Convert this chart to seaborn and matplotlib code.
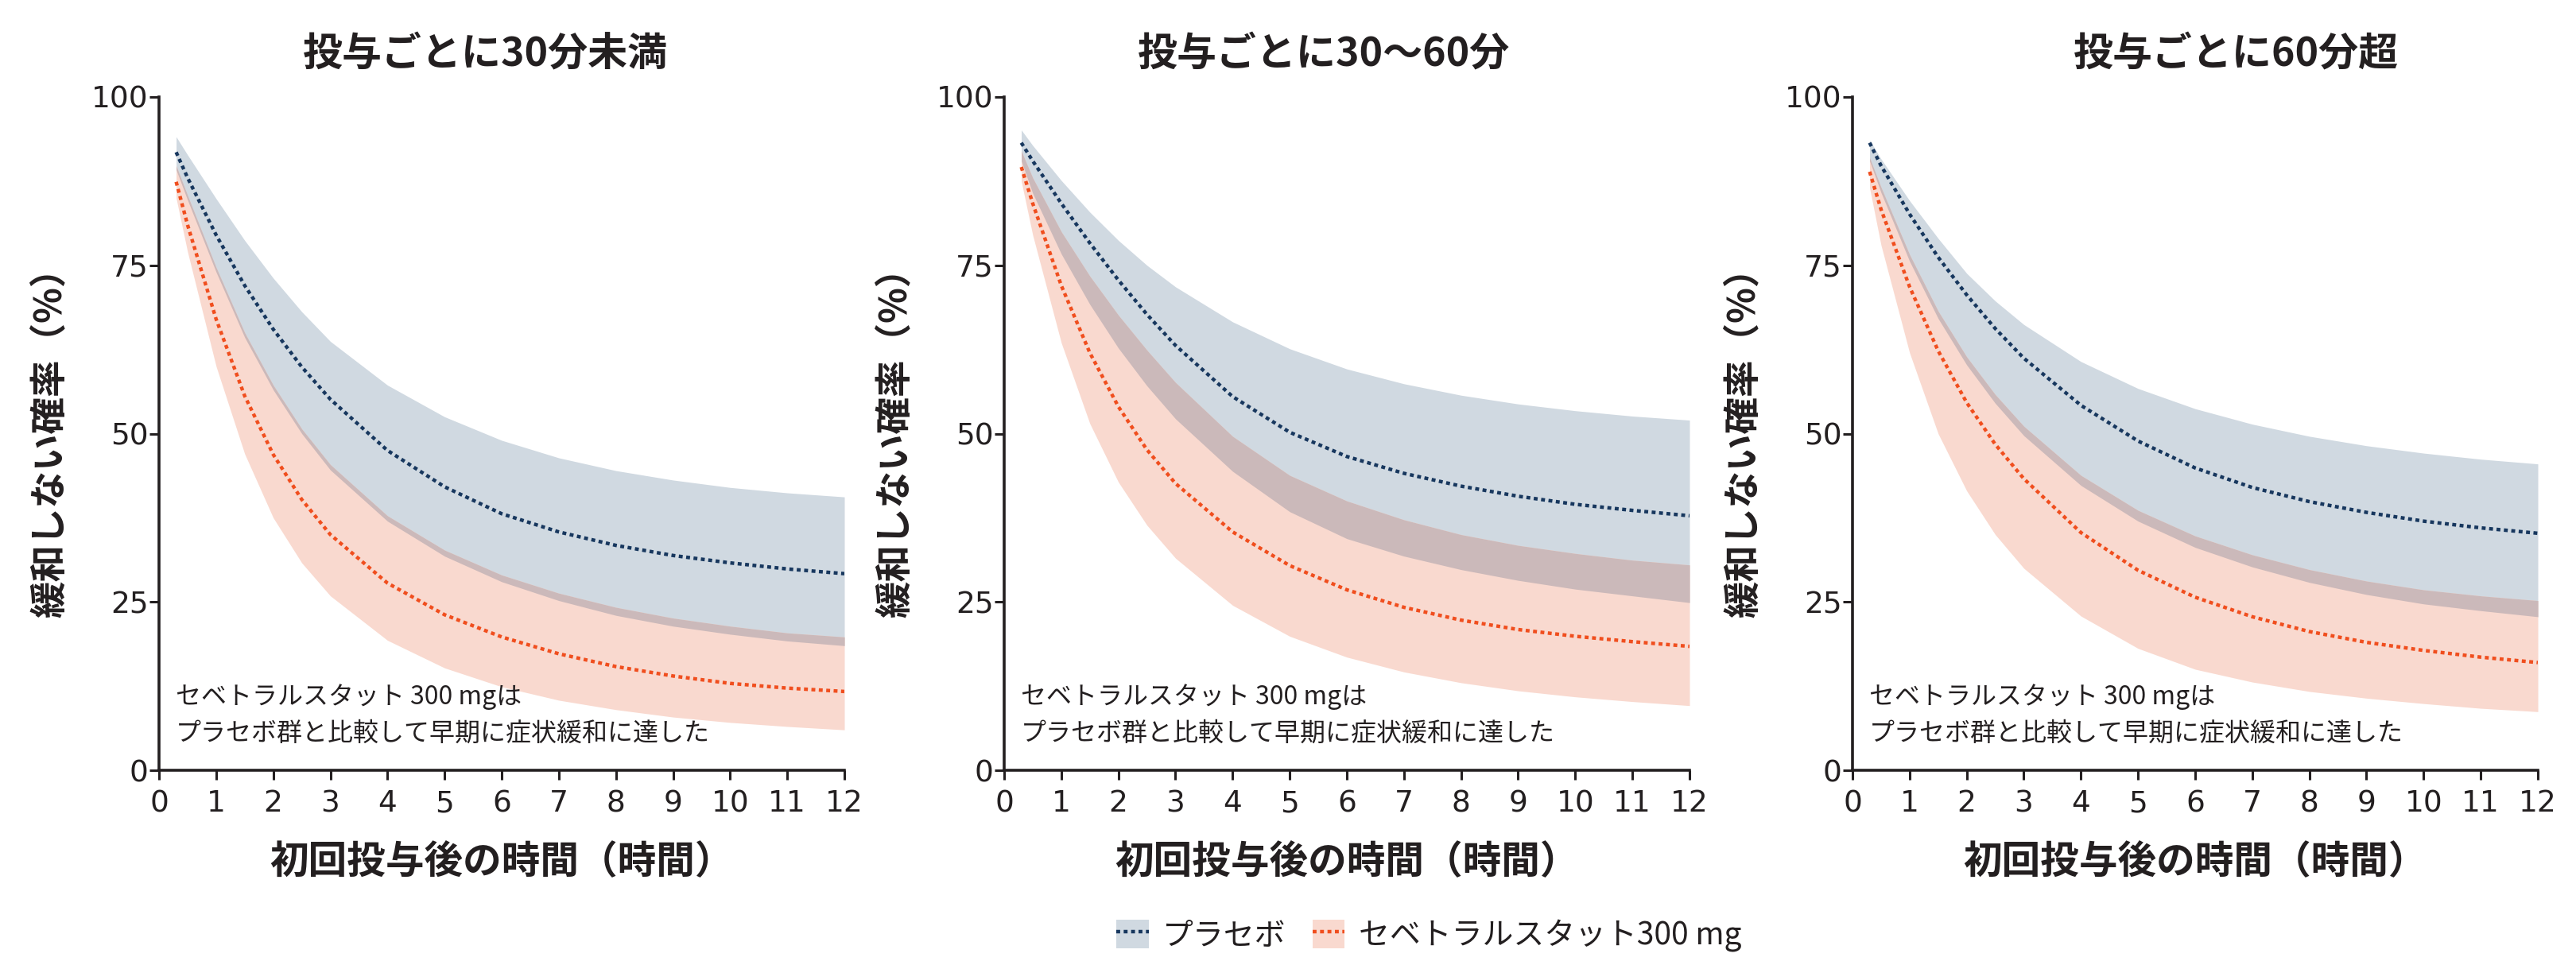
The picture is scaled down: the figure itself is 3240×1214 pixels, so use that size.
import numpy as np
import matplotlib
matplotlib.use("Agg")
import matplotlib.pyplot as plt
from matplotlib.patches import Patch
from matplotlib.lines import Line2D
import seaborn as sns

# Time after first dose (hours)
hours = [0.3, 0.5, 1, 1.5, 2, 2.5, 3, 4, 5, 6, 7, 8, 9, 10, 11, 12]

panel_titles = ["投与ごとに30分未満", "投与ごとに30〜60分", "投与ごとに60分超"]

# Placebo: mean and band (lower / upper), % not relieved
placebo_mean_lt30 = [91.8, 88.0, 79.5, 72.0, 65.5, 59.9, 55.1, 47.5, 42.1, 38.1, 35.4, 33.4, 31.9, 30.8, 29.9, 29.2]
placebo_low_lt30 = [89.2, 84.7, 74.0, 64.3, 56.5, 50.0, 44.6, 37.0, 31.8, 28.0, 25.2, 23.0, 21.4, 20.2, 19.2, 18.5]
placebo_high_lt30 = [94.1, 91.4, 84.9, 78.7, 73.1, 68.1, 63.7, 57.2, 52.5, 49.0, 46.4, 44.5, 43.1, 42.0, 41.2, 40.6]

placebo_mean_30_60 = [93.2, 90.5, 84.2, 78.3, 72.8, 67.7, 63.1, 55.5, 50.2, 46.6, 44.1, 42.2, 40.7, 39.5, 38.6, 37.8]
placebo_low_30_60 = [90.5, 85.7, 76.7, 69.2, 62.7, 57.1, 52.2, 44.4, 38.4, 34.4, 31.8, 29.8, 28.2, 26.9, 25.9, 24.9]
placebo_high_30_60 = [95.1, 92.8, 87.6, 82.9, 78.7, 75.0, 71.8, 66.6, 62.6, 59.6, 57.4, 55.7, 54.4, 53.4, 52.6, 52.0]

placebo_mean_gt60 = [93.2, 89.8, 82.6, 76.2, 70.6, 65.6, 61.2, 54.2, 48.9, 44.9, 42.0, 39.9, 38.3, 37.0, 36.0, 35.2]
placebo_low_gt60 = [90.5, 85.8, 75.6, 67.1, 60.2, 54.5, 49.7, 42.3, 37.0, 33.1, 30.2, 27.9, 26.1, 24.7, 23.7, 22.8]
placebo_high_gt60 = [93.6, 90.8, 84.6, 79.0, 73.8, 69.7, 66.2, 60.7, 56.7, 53.7, 51.4, 49.6, 48.2, 47.1, 46.2, 45.5]

# Sebetralstat 300 mg: mean and band
sebe_mean_lt30 = [87.4, 81.0, 67.0, 55.6, 46.9, 40.2, 35.0, 27.8, 23.1, 19.8, 17.3, 15.4, 14.0, 12.9, 12.2, 11.7]
sebe_low_lt30 = [85.0, 77.0, 60.0, 47.0, 37.5, 30.8, 25.9, 19.3, 15.2, 12.4, 10.4, 9.0, 7.9, 7.1, 6.5, 6.0]
sebe_high_lt30 = [89.8, 85.4, 74.7, 65.0, 57.2, 50.7, 45.4, 37.8, 32.7, 29.0, 26.3, 24.2, 22.6, 21.4, 20.4, 19.8]

sebe_mean_30_60 = [89.6, 84.2, 72.0, 62.0, 54.0, 47.6, 42.6, 35.4, 30.4, 26.8, 24.2, 22.3, 20.9, 19.9, 19.1, 18.4]
sebe_low_30_60 = [87.5, 79.5, 63.5, 51.5, 42.8, 36.4, 31.5, 24.5, 19.9, 16.8, 14.6, 13.0, 11.8, 10.9, 10.2, 9.6]
sebe_high_30_60 = [92.0, 88.0, 80.0, 73.4, 67.6, 62.4, 57.6, 49.6, 43.8, 40.0, 37.2, 35.0, 33.4, 32.2, 31.2, 30.5]

sebe_mean_gt60 = [88.9, 83.3, 71.8, 62.3, 54.6, 48.4, 43.3, 35.3, 29.7, 25.7, 22.8, 20.6, 19.0, 17.8, 16.8, 16.0]
sebe_low_gt60 = [86.5, 78.0, 62.0, 50.0, 41.5, 35.0, 30.0, 22.9, 18.1, 15.0, 13.1, 11.7, 10.7, 9.9, 9.2, 8.7]
sebe_high_gt60 = [91.0, 86.6, 76.6, 68.2, 61.4, 55.8, 51.1, 43.8, 38.6, 34.8, 32.0, 29.8, 28.1, 26.8, 25.9, 25.2]

x_ticks = list(range(0, 13))
y_ticks = [0, 25, 50, 75, 100]

series_name_placebo = "プラセボ"
series_name_sebe = "セベトラルスタット300 mg"
note_lines = ["セベトラルスタット 300 mgは", "プラセボ群と比較して早期に症状緩和に達した"]
x_label = "初回投与後の時間（時間）"
y_label = "緩和しない確率（%）"

panels = [
    (placebo_mean_lt30, placebo_low_lt30, placebo_high_lt30, sebe_mean_lt30, sebe_low_lt30, sebe_high_lt30),
    (placebo_mean_30_60, placebo_low_30_60, placebo_high_30_60, sebe_mean_30_60, sebe_low_30_60, sebe_high_30_60),
    (placebo_mean_gt60, placebo_low_gt60, placebo_high_gt60, sebe_mean_gt60, sebe_low_gt60, sebe_high_gt60),
]

# Styling
sns.set_theme(style="ticks")
plt.rcParams["font.family"] = ["Noto Sans CJK JP", "DejaVu Sans"]

TEXT = "#231F20"
BLUE_FILL = "#D0D9E1"
PINK_FILL = "#F9D9CF"
OVERLAP_FILL = "#CBB9BA"
BLUE_LINE = "#17375E"
ORANGE_LINE = "#F04E1E"
DOTTED = (0, (1.1, 1.0))
LW = 3.2

W, H = 3241, 1214
fig = plt.figure(figsize=(W / 100, H / 100), dpi=100)

ax_left_px = [200, 1263, 2330]
ax_w_px = 862
ax_top_px, ax_bot_px = 122, 969
ax_h_px = ax_bot_px - ax_top_px
title_cx_px = [610, 1665, 2812]

for i, (pm, pl, ph, sm, sl, sh) in enumerate(panels):
    ax = fig.add_axes([ax_left_px[i] / W, 1 - ax_bot_px / H,
                       ax_w_px / W, ax_h_px / H])
    x = np.array(hours)
    pl_a, ph_a = np.array(pl), np.array(ph)
    sl_a, sh_a = np.array(sl), np.array(sh)

    # confidence bands, with the shared region shown in its own tone
    ax.fill_between(x, pl_a, ph_a, color=BLUE_FILL, lw=0, zorder=1)
    ax.fill_between(x, sl_a, sh_a, color=PINK_FILL, lw=0, zorder=1.1)
    ov_lo = np.maximum(pl_a, sl_a)
    ov_hi = np.minimum(ph_a, sh_a)
    ax.fill_between(x, ov_lo, ov_hi, where=ov_hi > ov_lo, interpolate=True,
                    color=OVERLAP_FILL, lw=0, zorder=1.2)

    sns.lineplot(x=hours, y=pm, ax=ax, color=BLUE_LINE, lw=LW,
                 linestyle=DOTTED, zorder=3)
    sns.lineplot(x=hours, y=sm, ax=ax, color=ORANGE_LINE, lw=LW,
                 linestyle=DOTTED, zorder=3)

    ax.set_xlim(0, 12)
    ax.set_ylim(0, 100)
    ax.set_xticks(x_ticks)
    ax.set_yticks(y_ticks)
    sns.despine(ax=ax)
    for sp in ("left", "bottom"):
        ax.spines[sp].set_linewidth(2.6)
        ax.spines[sp].set_color(TEXT)
    ax.tick_params(axis="both", length=8.5, width=2.2, color=TEXT,
                   labelsize=27, labelcolor=TEXT)
    ax.tick_params(axis="x", pad=9)
    ax.tick_params(axis="y", pad=1)
    for lab in ax.get_xticklabels() + ax.get_yticklabels():
        lab.set_fontfamily("DejaVu Sans")

    ax.set_xlabel(x_label, fontsize=35, fontweight="bold", color=TEXT)
    ax.set_ylabel(y_label, fontsize=33.5, fontweight="bold", color=TEXT)
    ax.xaxis.set_label_coords(0.5, -(1085 - ax_bot_px) / ax_h_px)
    ax.xaxis.label.set_va("center")
    ax.yaxis.set_label_coords(-137 / ax_w_px, 0.5)
    ax.yaxis.label.set_va("center")

    ax.text(0.024, (ax_bot_px - 877) / ax_h_px, note_lines[0], transform=ax.transAxes,
            fontsize=23, color=TEXT, ha="left", va="center")
    ax.text(0.024, (ax_bot_px - 923) / ax_h_px, note_lines[1], transform=ax.transAxes,
            fontsize=23, color=TEXT, ha="left", va="center")

    fig.text(title_cx_px[i] / W, 1 - 68 / H, panel_titles[i], fontsize=36,
             fontweight="bold", color=TEXT, ha="center", va="center")

handles = [
    (Patch(facecolor=BLUE_FILL, edgecolor="none"),
     Line2D([], [], color=BLUE_LINE, lw=LW, linestyle=DOTTED)),
    (Patch(facecolor=PINK_FILL, edgecolor="none"),
     Line2D([], [], color=ORANGE_LINE, lw=LW, linestyle=DOTTED)),
]
leg = fig.legend(handles, [series_name_placebo, series_name_sebe], loc="center",
                 bbox_to_anchor=(1797 / W, 1 - 1177 / H), ncol=2, frameon=False,
                 fontsize=28, handlelength=1.05, handleheight=1.05,
                 handletextpad=0.45, columnspacing=0.85, borderpad=0)
for t in leg.get_texts():
    t.set_color(TEXT)

fig.savefig("out.png", dpi=100, facecolor="white")
